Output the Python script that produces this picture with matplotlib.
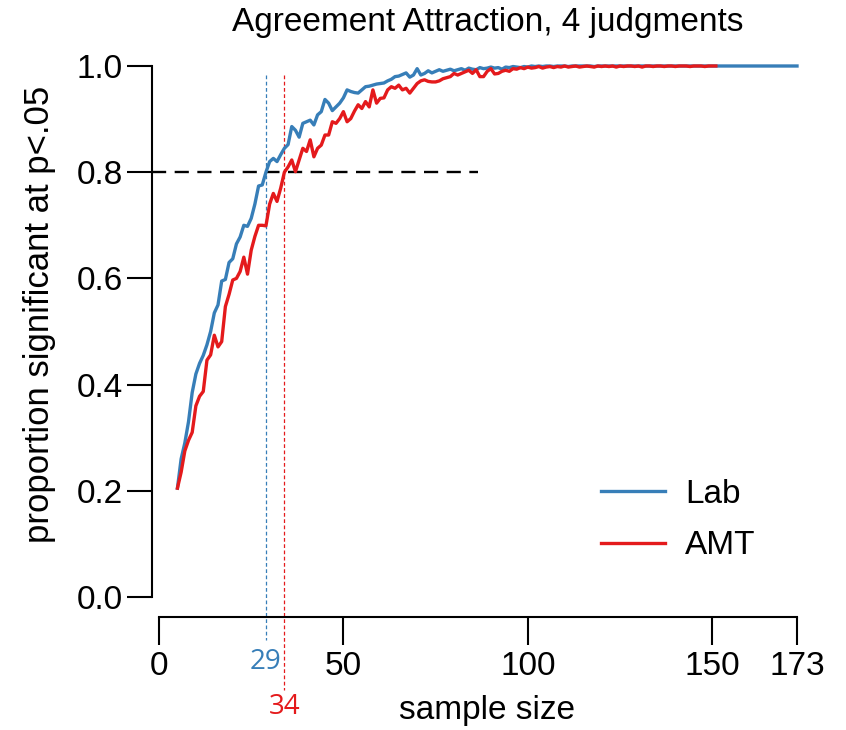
import matplotlib
matplotlib.use("Agg")
import matplotlib.pyplot as plt

plt.rcParams['font.family'] = ['Liberation Sans', 'DejaVu Sans']

# ---- data ----
lab_start = 5
lab_values = [
    0.205, 0.26, 0.29, 0.33, 0.385, 0.42, 0.44, 0.455, 0.475, 0.50,   # 5-14
    0.535, 0.55, 0.595, 0.598, 0.63, 0.637, 0.665, 0.678, 0.70, 0.698,  # 15-24
    0.713, 0.74, 0.774, 0.776, 0.80, 0.82, 0.826, 0.82, 0.833, 0.845,  # 25-34
    0.852, 0.886, 0.879, 0.866, 0.892, 0.895, 0.898, 0.889, 0.908, 0.914,  # 35-44
    0.937, 0.93, 0.916, 0.923, 0.93, 0.94, 0.955, 0.952, 0.95, 0.949,  # 45-54
    0.955, 0.961, 0.962, 0.964, 0.966, 0.967, 0.968, 0.972, 0.975, 0.98,  # 55-64
    0.981, 0.984, 0.987, 0.979, 0.983, 0.995, 0.983, 0.986, 0.991, 0.987,  # 65-74
    0.99, 0.993, 0.99, 0.992, 0.994, 0.991, 0.993, 0.995, 0.992, 0.996,  # 75-84
    0.994, 0.993, 0.997, 0.995, 0.996, 0.998, 0.996, 0.997, 0.994, 0.998,  # 85-94
    0.997, 0.999, 0.998, 0.997, 0.999, 0.998, 1.0, 0.999, 1.0, 0.999,  # 95-104
    1.0, 1.0, 0.999, 1.0, 1.0, 1.0, 0.999, 1.0, 1.0, 1.0,  # 105-114
    1.0, 1.0, 1.0, 0.999, 1.0, 1.0, 1.0, 1.0, 1.0, 1.0,  # 115-124
    1.0, 1.0, 1.0, 1.0, 1.0, 1.0, 1.0, 1.0, 1.0, 1.0,  # 125-134
    1.0, 1.0, 1.0, 1.0, 1.0, 1.0, 1.0, 1.0, 1.0, 1.0,  # 135-144
    1.0, 1.0, 1.0, 1.0, 1.0, 1.0, 1.0, 1.0, 1.0, 1.0,  # 145-154
    1.0, 1.0, 1.0, 1.0, 1.0, 1.0, 1.0, 1.0, 1.0, 1.0,  # 155-164
    1.0, 1.0, 1.0, 1.0, 1.0, 1.0, 1.0, 1.0, 1.0,  # 165-173
]
amt_start = 5
amt_values = [
    0.205, 0.235, 0.275, 0.295, 0.31, 0.36, 0.378, 0.387, 0.446, 0.456,  # 5-14
    0.493, 0.471, 0.481, 0.547, 0.57, 0.597, 0.60, 0.613, 0.64, 0.608,  # 15-24
    0.653, 0.679, 0.70, 0.70, 0.699, 0.74, 0.76, 0.745, 0.77, 0.80,  # 25-34
    0.81, 0.823, 0.801, 0.823, 0.845, 0.839, 0.861, 0.829, 0.845, 0.851,  # 35-44
    0.87, 0.87, 0.895, 0.892, 0.901, 0.914, 0.895, 0.901, 0.915, 0.927,  # 45-54
    0.92, 0.933, 0.923, 0.955, 0.93, 0.939, 0.94, 0.955, 0.961, 0.958,  # 55-64
    0.964, 0.955, 0.958, 0.949, 0.958, 0.967, 0.972, 0.974, 0.971, 0.97,  # 65-74
    0.97, 0.972, 0.976, 0.978, 0.98, 0.986, 0.983, 0.986, 0.989, 0.992,  # 75-84
    0.986, 0.993, 0.98, 0.98, 0.99, 0.995, 0.985, 0.986, 0.99, 0.992,  # 85-94
    0.99, 0.995, 0.994, 0.997, 0.995, 0.998, 0.996, 0.997, 0.999, 0.996,  # 95-104
    0.998, 0.999, 0.997, 0.999, 0.998, 1.0, 0.998, 0.999, 1.0, 0.998,  # 105-114
    0.999, 1.0, 0.999, 0.998, 1.0, 0.999, 1.0, 0.999, 1.0, 0.998,  # 115-124
    1.0, 0.999, 1.0, 1.0, 0.999, 1.0, 0.998, 1.0, 1.0, 0.999,  # 125-134
    1.0, 1.0, 0.999, 1.0, 1.0, 0.999, 1.0, 1.0, 1.0, 0.999,  # 135-144
    1.0, 1.0, 1.0, 0.999, 1.0, 1.0, 1.0,  # 145-151
]
lab_x = list(range(lab_start, lab_start + len(lab_values)))
amt_x = list(range(amt_start, amt_start + len(amt_values)))

series_labels = ["Lab", "AMT"]
colors = ["#377EB8", "#E41A1C"]
cross_n = [29, 34]          # sample size reaching 0.8
threshold = 0.8
threshold_xrange = (-2, 86.5)
x_ticks = [0, 50, 100, 150, 173]
y_ticks = [0.0, 0.2, 0.4, 0.6, 0.8, 1.0]
title = "Agreement Attraction, 4 judgments"
xlabel = "sample size"
ylabel = "proportion significant at p<.05"

# ---- figure ----
W, H = 846, 730
PT = 72 / 100  # points per pixel
fig = plt.figure(figsize=(W / 100, H / 100), dpi=100)
ax = fig.add_axes([159 / W, (H - 597) / H, 638 / W, 531 / H])
ax.set_xlim(0, 173)
ax.set_ylim(0, 1)

lw = 2.4
ax.plot(lab_x, lab_values, color=colors[0], lw=lw, clip_on=False, zorder=3,
        label=series_labels[0])
ax.plot(amt_x, amt_values, color=colors[1], lw=lw, clip_on=False, zorder=4,
        label=series_labels[1])

# threshold line
ax.plot(threshold_xrange, [threshold, threshold], color="black", lw=1.7,
        ls=(0, (6, 3.6)), clip_on=False, zorder=2)

# vertical crossing lines (extend below axis)
bottoms = [-0.081, -0.175]
for n, c, b in zip(cross_n, colors, bottoms):
    ax.plot([n, n], [0.983, b], color=c, lw=0.9, ls=(0, (3, 2)),
            clip_on=False, zorder=1)

# spines
for s in ["top", "right"]:
    ax.spines[s].set_visible(False)
ax.spines["left"].set_position(("outward", 7 * PT))
ax.spines["bottom"].set_position(("outward", 20 * PT))
ax.spines["left"].set_bounds(0, 1)
ax.spines["bottom"].set_bounds(0, 173)
for s in ["left", "bottom"]:
    ax.spines[s].set_linewidth(1.5)

ax.set_xticks(x_ticks)
ax.set_xticklabels([str(t) for t in x_ticks])
ax.set_yticks(y_ticks)
ax.set_yticklabels([f"{t:.1f}" for t in y_ticks])
ax.tick_params(axis="x", length=28 * PT, width=1.5, pad=4, labelsize=24)
ax.tick_params(axis="y", length=25 * PT, width=1.5, pad=3, labelsize=24)

# colored crossing labels
trans = ax.get_xaxis_transform()
label_y = [-0.123, -0.207]
for n, c, yy in zip(cross_n, colors, label_y):
    ax.text(n, yy, str(n), color=c, fontsize=20, ha="center", va="center",
            transform=trans, family=["Open Sans", "DejaVu Sans"])

# titles / labels
fig.text(488 / W, 1 - 22 / H, title, ha="center", va="center", fontsize=24)
fig.text(487 / W, 1 - 710 / H, xlabel, ha="center", va="center", fontsize=24)
fig.text(40 / W, 1 - 314 / H, ylabel, ha="center", va="center", fontsize=25,
         rotation=90)

# legend
ax.legend(loc="center left", bbox_to_anchor=(601 / W, 1 - 520 / H),
          bbox_transform=fig.transFigure, frameon=False, fontsize=24,
          handlelength=1.93, handletextpad=0.6, labelspacing=0.62,
          borderpad=0, borderaxespad=0)

fig.savefig("out.png", dpi=100)
